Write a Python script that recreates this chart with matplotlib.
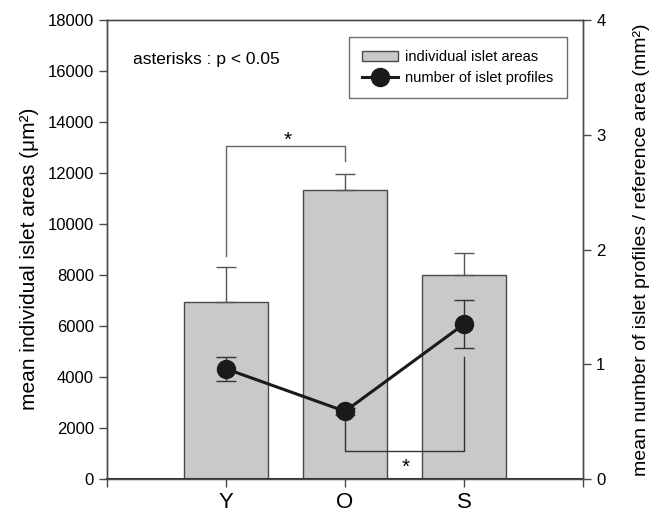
import matplotlib.pyplot as plt

plt.rcParams['font.family'] = ['Liberation Sans', 'DejaVu Sans']

# data
groups = ['Y', 'O', 'S']
area_mean = [6950, 11350, 8000]       # mean individual islet area (um^2)
area_err = [1350, 600, 880]
profiles_mean = [0.96, 0.59, 1.35]    # islet profiles / reference area
profiles_err = [0.107, 0.03, 0.21]

# significance brackets (left axis units)
top_bracket_x = [1, 1, 2, 2]
top_bracket_y = [8730, 13040, 13040, 12465]
bottom_bracket_x = [2, 2, 3, 3]
bottom_bracket_y = [2650, 1100, 1100, 4780]

edge = '#4a4a4a'
x = [1, 2, 3]

fig = plt.figure(figsize=(6.61, 5.15), dpi=100)
ax = fig.add_axes([107/661, 36/515, 476/661, 459/515])

bars = ax.bar(x, area_mean, width=0.7, color='#c8c9cb', edgecolor=edge,
              linewidth=1.0, zorder=2, label='individual islet areas')
ax.errorbar(x, area_mean, yerr=[[0, 0, 0], area_err], fmt='none',
            ecolor='#555555', elinewidth=1.0, capsize=7, capthick=1.0, zorder=3)

ax.plot(top_bracket_x, top_bracket_y, color='#666666', lw=1.0, zorder=3)
ax.plot(bottom_bracket_x, bottom_bracket_y, color='#333333', lw=1.0, zorder=3)
ax.text(1.52, 12900, '*', fontsize=15, ha='center', va='bottom')
ax.text(2.51, 100, '*', fontsize=15, ha='center', va='bottom')

ax.set_xlim(0, 4)
ax.set_ylim(0, 18000)
ax.set_yticks(range(0, 18001, 2000))
ax.set_xticks([0, 1, 2, 3, 4])
ax.set_xticklabels([''] + groups + [''], fontsize=16)
ax.tick_params(axis='y', labelsize=12, length=6, width=1.0, color=edge, direction='out')
ax.tick_params(axis='x', length=6, width=1.0, color=edge, direction='out', pad=3)
ax.set_ylabel('mean individual islet areas (μm²)', fontsize=15)
ax.yaxis.set_label_coords(-0.143, 0.479)
for s in ax.spines.values():
    s.set_color(edge)
    s.set_linewidth(1.0)
ax.spines['bottom'].set_color('#333333')
ax.spines['bottom'].set_linewidth(1.5)

ax.text(0.22, 16460, 'asterisks : p < 0.05', fontsize=12.5, va='center')

ax2 = ax.twinx()
ax2.set_ylim(0, 4)
ax2.set_yticks([0, 1, 2, 3, 4])
line = ax2.errorbar(x, profiles_mean, yerr=profiles_err, fmt='-o', color='#1a1a1a',
                    lw=2.2, ms=13, ecolor='#333333', elinewidth=1.0, capsize=7,
                    capthick=1.0, zorder=4, label='number of islet profiles')
ax2.tick_params(axis='y', labelsize=12, length=6, width=1.0, color=edge, direction='out')
ax2.set_ylabel('mean number of islet profiles / reference area (mm²)', fontsize=14,
               labelpad=20)
for s in ax2.spines.values():
    s.set_color(edge)
    s.set_linewidth(1.0)

ax2.legend([bars, line[0]], ['individual islet areas', 'number of islet profiles'],
           loc='upper right', bbox_to_anchor=(0.966, 0.963), borderaxespad=0,
           fontsize=10.5, frameon=True, fancybox=False, edgecolor=edge,
           handlelength=2.5, handleheight=0.6, borderpad=0.9, labelspacing=0.45,
           handletextpad=0.5)

fig.savefig('out.png', dpi=100)
